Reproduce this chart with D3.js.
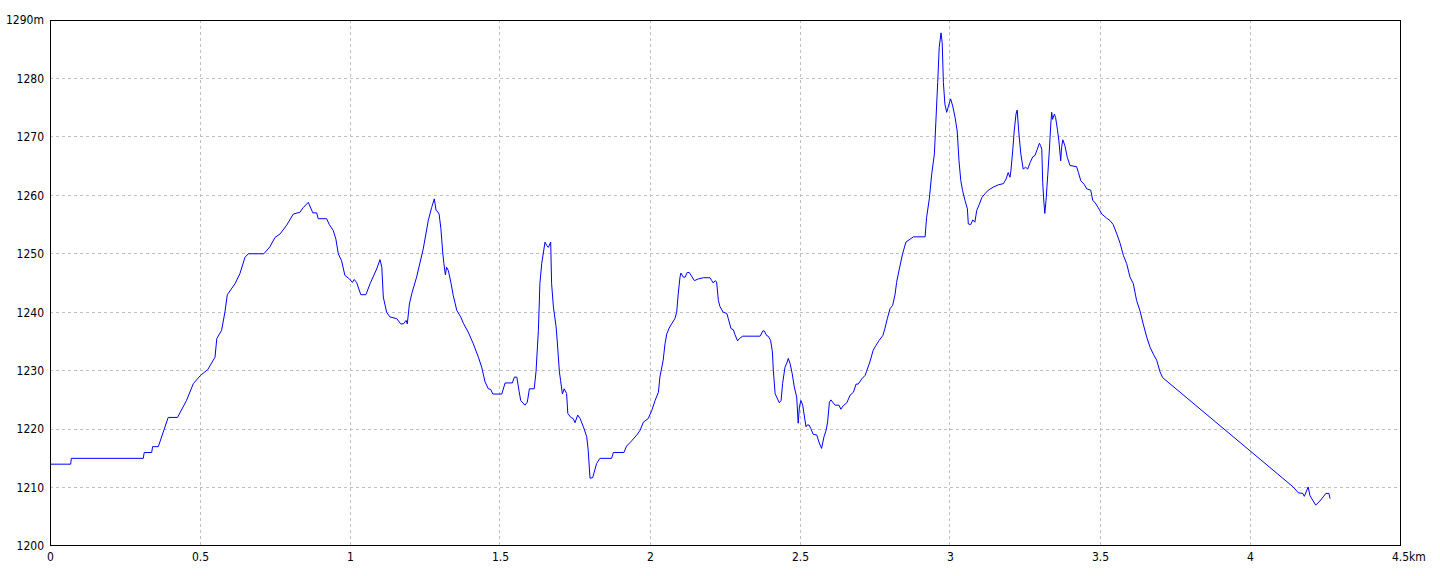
<!DOCTYPE html>
<html>
<head>
<meta charset="utf-8">
<script src="https://cdn.jsdelivr.net/npm/d3@7"></script>
<style>
  html, body { margin: 0; padding: 0; background: #fff; }
  svg { display: block; }
  .lbl { font-family: "Liberation Sans Narrow", "DejaVu Sans Condensed", "Arial Narrow", sans-serif; font-size: 12px; fill: #000; }
</style>
</head>
<body>
<svg id="chart" width="1440" height="576"></svg>
<script>
// Distance along route (km)
const distKm = [
  0, 0.069, 0.071, 0.311, 0.314, 0.339, 0.342, 0.361, 0.394, 0.425,
  0.455, 0.478, 0.502, 0.526, 0.55, 0.556, 0.572, 0.583, 0.591, 0.617,
  0.633, 0.65, 0.661, 0.713, 0.733, 0.75, 0.767, 0.789, 0.811, 0.833,
  0.844, 0.861, 0.876, 0.889, 0.894, 0.922, 0.931, 0.944, 0.953, 0.961,
  0.972, 0.983, 0.998, 1.008, 1.014, 1.022, 1.036, 1.053, 1.067, 1.089,
  1.1, 1.106, 1.111, 1.122, 1.133, 1.156, 1.169, 1.178, 1.187, 1.191,
  1.198, 1.206, 1.222, 1.244, 1.261, 1.272, 1.281, 1.287, 1.291, 1.297,
  1.303, 1.309, 1.313, 1.318, 1.322, 1.328, 1.337, 1.344, 1.356, 1.369,
  1.378, 1.394, 1.411, 1.428, 1.439, 1.45, 1.461, 1.469, 1.476, 1.506,
  1.517, 1.541, 1.548, 1.556, 1.564, 1.569, 1.583, 1.591, 1.598, 1.614,
  1.62, 1.628, 1.633, 1.639, 1.65, 1.656, 1.661, 1.669, 1.672, 1.678,
  1.687, 1.691, 1.698, 1.702, 1.708, 1.714, 1.722, 1.726, 1.736, 1.744,
  1.75, 1.759, 1.767, 1.778, 1.789, 1.794, 1.8, 1.809, 1.822, 1.833,
  1.872, 1.878, 1.913, 1.922, 1.939, 1.956, 1.967, 1.978, 1.994, 2.006,
  2.017, 2.028, 2.033, 2.044, 2.05, 2.056, 2.064, 2.072, 2.083, 2.089,
  2.094, 2.1, 2.103, 2.111, 2.117, 2.124, 2.131, 2.148, 2.161, 2.178,
  2.2, 2.206, 2.211, 2.217, 2.222, 2.228, 2.233, 2.244, 2.256, 2.261,
  2.27, 2.278, 2.283, 2.292, 2.298, 2.309, 2.367, 2.376, 2.381, 2.389,
  2.394, 2.402, 2.408, 2.411, 2.417, 2.422, 2.431, 2.437, 2.442, 2.45,
  2.456, 2.461, 2.467, 2.474, 2.481, 2.489, 2.494, 2.498, 2.503, 2.509,
  2.514, 2.52, 2.524, 2.53, 2.536, 2.544, 2.556, 2.563, 2.572, 2.58,
  2.587, 2.592, 2.598, 2.603, 2.617, 2.63, 2.636, 2.644, 2.656, 2.667,
  2.678, 2.687, 2.694, 2.706, 2.717, 2.722, 2.733, 2.744, 2.753, 2.764,
  2.776, 2.783, 2.791, 2.8, 2.809, 2.817, 2.822, 2.831, 2.842, 2.853,
  2.867, 2.878, 2.917, 2.922, 2.931, 2.939, 2.948, 2.953, 2.959, 2.964,
  2.97, 2.974, 2.978, 2.983, 2.989, 2.994, 3.002, 3.009, 3.017, 3.024,
  3.03, 3.036, 3.042, 3.05, 3.058, 3.061, 3.069, 3.076, 3.083, 3.089,
  3.098, 3.106, 3.117, 3.128, 3.144, 3.161, 3.178, 3.187, 3.194, 3.2,
  3.203, 3.209, 3.214, 3.22, 3.224, 3.229, 3.236, 3.244, 3.252, 3.259,
  3.267, 3.276, 3.283, 3.291, 3.298, 3.302, 3.306, 3.309, 3.313, 3.316,
  3.32, 3.326, 3.331, 3.336, 3.339, 3.342, 3.348, 3.352, 3.358, 3.363,
  3.369, 3.372, 3.376, 3.383, 3.391, 3.4, 3.422, 3.428, 3.436, 3.447,
  3.456, 3.469, 3.476, 3.483, 3.494, 3.506, 3.522, 3.533, 3.544, 3.556,
  3.567, 3.578, 3.589, 3.6, 3.611, 3.622, 3.633, 3.644, 3.656, 3.667,
  3.678, 3.689, 3.7, 3.709, 4.144, 4.161, 4.176, 4.181, 4.194, 4.2,
  4.219, 4.233, 4.253, 4.263, 4.267
];
// Elevation (m)
const elevM = [
  1214, 1214, 1215, 1215, 1216, 1216, 1217, 1217, 1222, 1222,
  1224.9, 1227.8, 1229.2, 1230.2, 1232.3, 1235.5, 1236.9, 1240, 1243, 1244.9,
  1246.6, 1249.4, 1250, 1250, 1251.2, 1252.8, 1253.4, 1254.9, 1256.8, 1257.1,
  1257.9, 1258.8, 1257, 1257, 1256, 1256, 1255, 1254, 1252.5, 1250,
  1248.8, 1246.3, 1245.7, 1245.1, 1245.6, 1245.1, 1243, 1243, 1244.9, 1247.4,
  1249, 1247.7, 1242.6, 1240, 1239.2, 1238.9, 1238, 1238, 1238.6, 1238,
  1241.4, 1243.2, 1246, 1250.8, 1255.7, 1257.9, 1259.4, 1257.4, 1257.3, 1256.8,
  1254.3, 1250.3, 1248.3, 1246.4, 1247.7, 1247.1, 1244.9, 1242.9, 1240.3, 1239.2,
  1238.1, 1236.6, 1234.6, 1232.3, 1230.6, 1228.1, 1226.9, 1226.8, 1226, 1226,
  1227.9, 1227.9, 1228.9, 1228.9, 1226.4, 1224.9, 1224.1, 1224.6, 1226.9, 1226.9,
  1229.8, 1236.9, 1244.9, 1248.3, 1252, 1251.4, 1251.1, 1252, 1244.9, 1240.9,
  1237.5, 1234.9, 1229.8, 1228.3, 1226, 1226.9, 1226.1, 1222.7, 1222, 1221.8,
  1221.1, 1222.4, 1221.8, 1220.4, 1218.7, 1216.4, 1211.6, 1211.7, 1214.1, 1215,
  1215, 1216, 1216, 1217.1, 1218, 1219, 1219.8, 1221.2, 1221.8, 1223.2,
  1224.9, 1226.3, 1228.9, 1231.8, 1234.6, 1236.3, 1237.3, 1238, 1238.9, 1240,
  1243.1, 1246, 1246.7, 1246, 1246, 1246.8, 1246.8, 1245.4, 1245.7, 1245.9,
  1245.9, 1245.4, 1245, 1245.4, 1245.2, 1242, 1241, 1240, 1239.8, 1238.9,
  1237.2, 1237, 1236.2, 1235.1, 1235.5, 1235.9, 1235.9, 1236.8, 1236.8, 1236,
  1235.9, 1235.2, 1233.2, 1230.1, 1226.1, 1225.5, 1224.5, 1224.9, 1227.8, 1230.6,
  1231.3, 1232.1, 1231.2, 1229.5, 1227.2, 1225.5, 1221, 1223.8, 1224.9, 1224.1,
  1222.4, 1220.4, 1220.7, 1220.7, 1220.1, 1219.1, 1219, 1217.8, 1216.7, 1218.7,
  1219.8, 1221.2, 1224.6, 1225, 1224.1, 1224.1, 1223.4, 1224, 1224.5, 1225.8,
  1226.3, 1227.7, 1227.7, 1228.6, 1229.2, 1229.9, 1231.5, 1233.5, 1234.3, 1235.2,
  1236, 1237.2, 1238.9, 1240.6, 1241.2, 1243.1, 1245.1, 1247.4, 1250, 1252,
  1252.5, 1252.9, 1252.9, 1256.2, 1259.4, 1263.6, 1267.1, 1272.7, 1279.3, 1285.3,
  1287.8, 1286.1, 1279.3, 1275.6, 1274.2, 1275.1, 1276.5, 1275.3, 1273.3, 1271,
  1265.9, 1262.5, 1260.8, 1259.1, 1257.7, 1255.1, 1255, 1255.8, 1255.4, 1257.4,
  1258.5, 1259.6, 1260.3, 1260.9, 1261.4, 1261.8, 1262, 1262.8, 1263.9, 1263.1,
  1264.2, 1267.6, 1271, 1273.9, 1274.6, 1271, 1267.1, 1264.5, 1264.8, 1264.5,
  1265.6, 1266.6, 1266.8, 1267.9, 1268.9, 1268.5, 1267.9, 1262.2, 1258.8, 1256.9,
  1259.1, 1263.6, 1267.6, 1272.2, 1274.2, 1273, 1273.9, 1273.3, 1271.3, 1269.3,
  1265.9, 1268.2, 1269.5, 1268.5, 1266.5, 1265.1, 1264.9, 1263.9, 1262.5, 1261.9,
  1261.1, 1260.9, 1259.1, 1258.8, 1257.9, 1256.8, 1256.1, 1255.7, 1255, 1253.4,
  1251.8, 1249.7, 1248.3, 1246, 1244.9, 1242, 1240.3, 1238, 1235.7, 1234,
  1232.8, 1231.8, 1229.8, 1228.8, 1210.1, 1209.1, 1209, 1208.5, 1210.1, 1208.6,
  1207, 1207.7, 1209, 1209, 1208.1
];
// Tick values
const xTicks = [0, 0.5, 1, 1.5, 2, 2.5, 3, 3.5, 4, 4.5];
const yTicks = [1200, 1210, 1220, 1230, 1240, 1250, 1260, 1270, 1280, 1290];
const xUnit = "km";
const yUnit = "m";

const svg = d3.select("#chart");
const x = d3.scaleLinear().domain([0, 4.5]).range([50, 1400]);
const y = d3.scaleLinear().domain([1200, 1290]).range([546, 20]);

const px = v => Math.floor(v) + 0.5;

// Grid
const grid = svg.append("g").attr("stroke", "#c0c0c0").attr("stroke-dasharray", "3,3")
  .attr("shape-rendering", "crispEdges");
grid.selectAll("line.v").data(xTicks.filter(t => t > 0 && t < 4.5)).join("line")
  .attr("class", "v")
  .attr("x1", d => px(x(d))).attr("x2", d => px(x(d)))
  .attr("y1", y(1290)).attr("y2", y(1200));
grid.selectAll("line.h").data(yTicks.filter(t => t > 1200 && t < 1290)).join("line")
  .attr("class", "h")
  .attr("y1", d => px(y(d))).attr("y2", d => px(y(d)))
  .attr("x1", x(0)).attr("x2", x(4.5));

// Elevation line
const pts = distKm.map((d, i) => [d, elevM[i]]);
svg.append("path")
  .datum(pts)
  .attr("fill", "none")
  .attr("stroke", "#0000ff")
  .attr("stroke-width", 1)
  .attr("d", d3.line().x(d => x(d[0])).y(d => y(d[1])));

// Border
svg.append("rect")
  .attr("x", px(x(0))).attr("y", px(y(1290)))
  .attr("width", Math.floor(x(4.5)) - Math.floor(x(0)))
  .attr("height", Math.floor(y(1200)) - Math.floor(y(1290)) - 1)
  .attr("fill", "none").attr("stroke", "#000").attr("stroke-width", 1)
  .attr("shape-rendering", "crispEdges");

// Y axis labels via d3 axis
const yAxis = d3.axisLeft(y).tickValues(yTicks).tickSize(0).tickPadding(6)
  .tickFormat(d => d === 1290 ? d + yUnit : String(d));
const gy = svg.append("g").attr("transform", "translate(50,0)").call(yAxis);
gy.select(".domain").remove();
gy.selectAll("text").attr("class", "lbl").attr("font-family", null).attr("font-size", null);
gy.attr("font-family", null).attr("font-size", null);

// X axis labels via d3 axis
const xAxis = d3.axisBottom(x).tickValues(xTicks).tickSize(0).tickPadding(6)
  .tickFormat(d => String(d));
const gx = svg.append("g").attr("transform", "translate(0,546)").call(xAxis);
gx.select(".domain").remove();
gx.attr("font-family", null).attr("font-size", null);
gx.selectAll("text").attr("class", "lbl").attr("dy", "0.71em");
// Append unit to last label, keeping number centred on the tick
gx.selectAll(".tick").filter(d => d === 4.5).select("text").each(function () {
  const t = d3.select(this);
  const w = this.getComputedTextLength();
  t.attr("text-anchor", "start").attr("x", -w / 2);
  t.append("tspan").text(xUnit);
});
</script>
</body>
</html>
